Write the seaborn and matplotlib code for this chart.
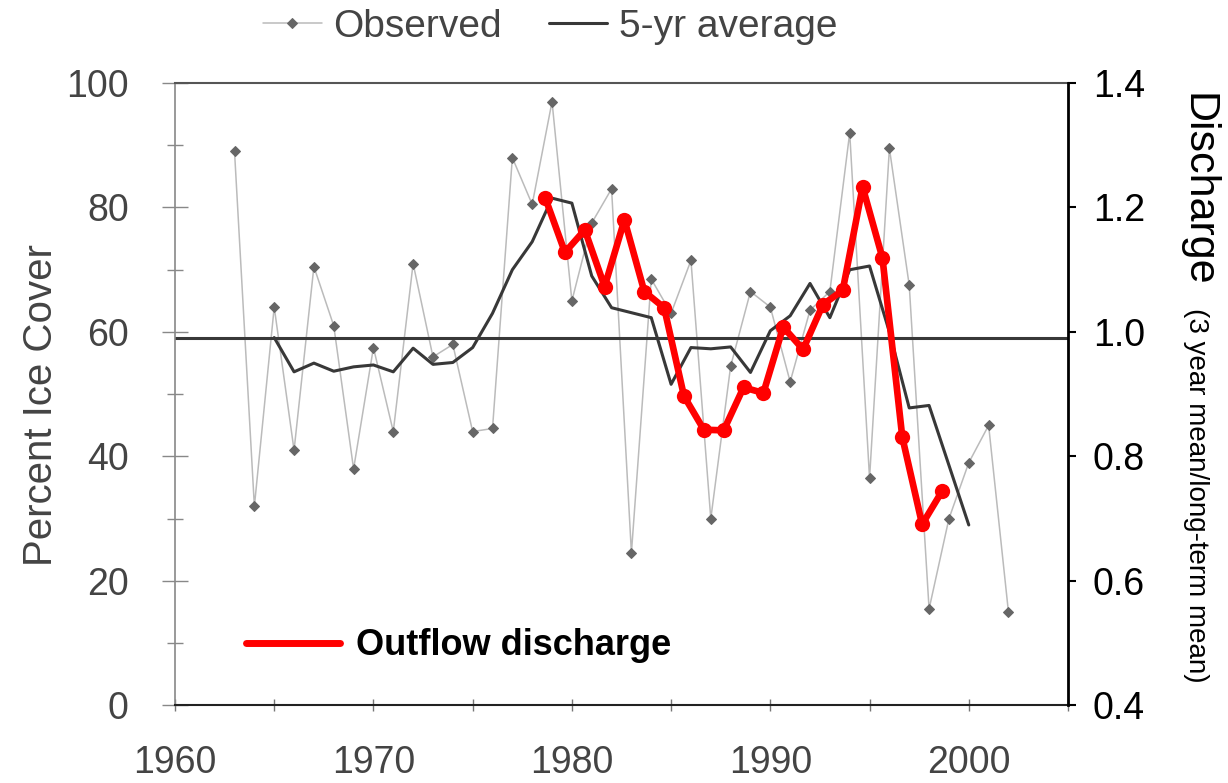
import numpy as np
import pandas as pd
import matplotlib
matplotlib.use("Agg")
import matplotlib.pyplot as plt
from matplotlib.lines import Line2D
import seaborn as sns

sns.set_theme(style="white")
plt.rcParams['font.family'] = ['Liberation Sans', 'DejaVu Sans']

# observed percent ice cover
obs_years = list(range(1963, 2003))
obs_cover = [89, 32, 64, 41, 70.5, 61, 38, 57.5, 44, 71,
             56, 58, 44, 44.5, 88, 80.5, 97, 65, 77.5, 83,
             24.5, 68.5, 63, 71.5, 30, 54.5, 66.5, 64, 52, 63.5,
             66.5, 92, 36.5, 89.5, 67.5, 15.5, 30, 39, 45, 15]

# 5-yr running average
avg_years = list(range(1965, 2001))
avg_cover = [59.1, 53.6, 55.0, 53.7, 54.4, 54.7, 53.6, 57.4, 54.8, 55.1,
             57.5, 63.0, 70.0, 74.5, 81.5, 80.7, 69.0, 63.9, 63.1, 62.3,
             51.6, 57.5, 57.3, 57.6, 53.5, 60.2, 62.6, 67.8, 62.3, 70.0,
             70.6, 60.0, 47.8, 48.2, 38.6, 29.0]

mean_cover = 59

# outflow discharge, 3 yr mean / long-term mean
dis_years = list(range(1979, 2000))
dis_ratio = [1.216, 1.128, 1.164, 1.073, 1.180, 1.065, 1.039, 0.897, 0.843, 0.842,
             0.911, 0.902, 1.008, 0.972, 1.044, 1.067, 1.233, 1.119, 0.831, 0.691,
             0.744]

GRAY_TXT = '#444444'
PT = 72 / 100  # points per pixel at dpi 100

obs_df = pd.DataFrame({"year": obs_years, "cover": obs_cover})
avg_df = pd.DataFrame({"year": avg_years, "cover": avg_cover})
dis_df = pd.DataFrame({"year": dis_years, "ratio": dis_ratio})
# red curve was overlaid slightly left of the year grid
dis_df["xpos"] = dis_df["year"] - 0.35

fig = plt.figure(figsize=(12.28, 7.83), dpi=100)
ax = fig.add_axes([0.1425, 0.0990, 0.7272, 0.7950])

sns.lineplot(data=obs_df, x="year", y="cover", ax=ax, color="#bbbbbb", linewidth=1.1,
             marker="D", markersize=5, markerfacecolor="#666666",
             markeredgecolor="#666666", label="Observed", legend=False)
sns.lineplot(data=avg_df, x="year", y="cover", ax=ax, color="#383838", linewidth=2.2,
             label="5-yr average", legend=False)
ax.axhline(mean_cover, color="#383838", linewidth=2.2)

ax.set_xlim(1960, 2005)
ax.set_ylim(0, 100)
ax.set_xlabel("")
ax.set_ylabel("")
ax.set_xticks([1960, 1970, 1980, 1990, 2000])
ax.set_xticks([1965, 1975, 1985, 1995, 2005], minor=True)
ax.set_yticks([0, 20, 40, 60, 80, 100])
ax.set_yticks([10, 30, 50, 70, 90], minor=True)
ax.tick_params(axis='x', which='both', bottom=True, direction='inout', length=12 * PT,
               width=1, color='#777777', labelsize=27, labelcolor=GRAY_TXT, pad=24)
ax.tick_params(axis='y', which='major', left=True, direction='inout', length=26 * PT,
               width=1, color='#888888', labelsize=27, labelcolor=GRAY_TXT, pad=24)
ax.tick_params(axis='y', which='minor', left=True, direction='inout', length=16 * PT,
               width=1, color='#888888')
ax.spines['left'].set_color('#888888')
ax.spines['left'].set_linewidth(1.2)
ax.spines['bottom'].set_color('#222222')
ax.spines['bottom'].set_linewidth(1.5)
ax.spines['top'].set_color('#555555')
ax.spines['top'].set_linewidth(1.5)
ax.spines['right'].set_visible(False)

ax2 = ax.twinx()
sns.lineplot(data=dis_df, x="xpos", y="ratio", ax=ax2, color="#ff0000", linewidth=4.8,
             marker="o", markersize=11, markeredgewidth=0, legend=False)
ax2.set_ylim(0.4, 1.4)
ax2.set_ylabel("")
ax2.set_yticks([0.4, 0.6, 0.8, 1.0, 1.2, 1.4])
ax2.set_yticklabels(["0.4", "0.6", "0.8", "1.0", "1.2", "1.4"])
ax2.tick_params(axis='y', right=True, labelright=True, direction='out', length=8 * PT,
                width=1.5, color='black', labelsize=27, labelcolor='black', pad=12)
for s in ['left', 'top', 'bottom']:
    ax2.spines[s].set_visible(False)
ax2.spines['right'].set_color('black')
ax2.spines['right'].set_linewidth(2)

# legends
obs_line, avg_line = ax.lines[0], ax.lines[1]
fig.legend(handles=[obs_line, avg_line], labels=["Observed", "5-yr average"],
           loc='center', bbox_to_anchor=(0.448, 0.966), ncol=2, frameon=False,
           prop={'family': ['Liberation Sans Narrow', 'Liberation Sans'], 'size': 28},
           labelcolor=GRAY_TXT, handlelength=1.5, handletextpad=0.3, columnspacing=1.2,
           borderpad=0)

red_handle = Line2D([], [], color="#ff0000", linewidth=5)
ax2.legend(handles=[red_handle], labels=["Outflow discharge"], loc='center left',
           bbox_to_anchor=(0.0795, 0.096), frameon=False, labelcolor='black',
           prop={'weight': 'bold', 'size': 26}, handlelength=2.6, handletextpad=0.45,
           borderaxespad=0, borderpad=0)

fig.text(0.033, 0.483, "Percent Ice Cover", rotation=90, fontsize=29, color=GRAY_TXT,
         ha='center', va='center')
fig.text(0.975, 0.757, "Discharge", rotation=270, fontsize=31, color='black',
         ha='center', va='center')
fig.text(0.974, 0.368, "(3 year mean/long-term mean)", rotation=270, fontsize=20,
         color='black', ha='center', va='center')

fig.savefig("out.png", dpi=100, facecolor='white')
